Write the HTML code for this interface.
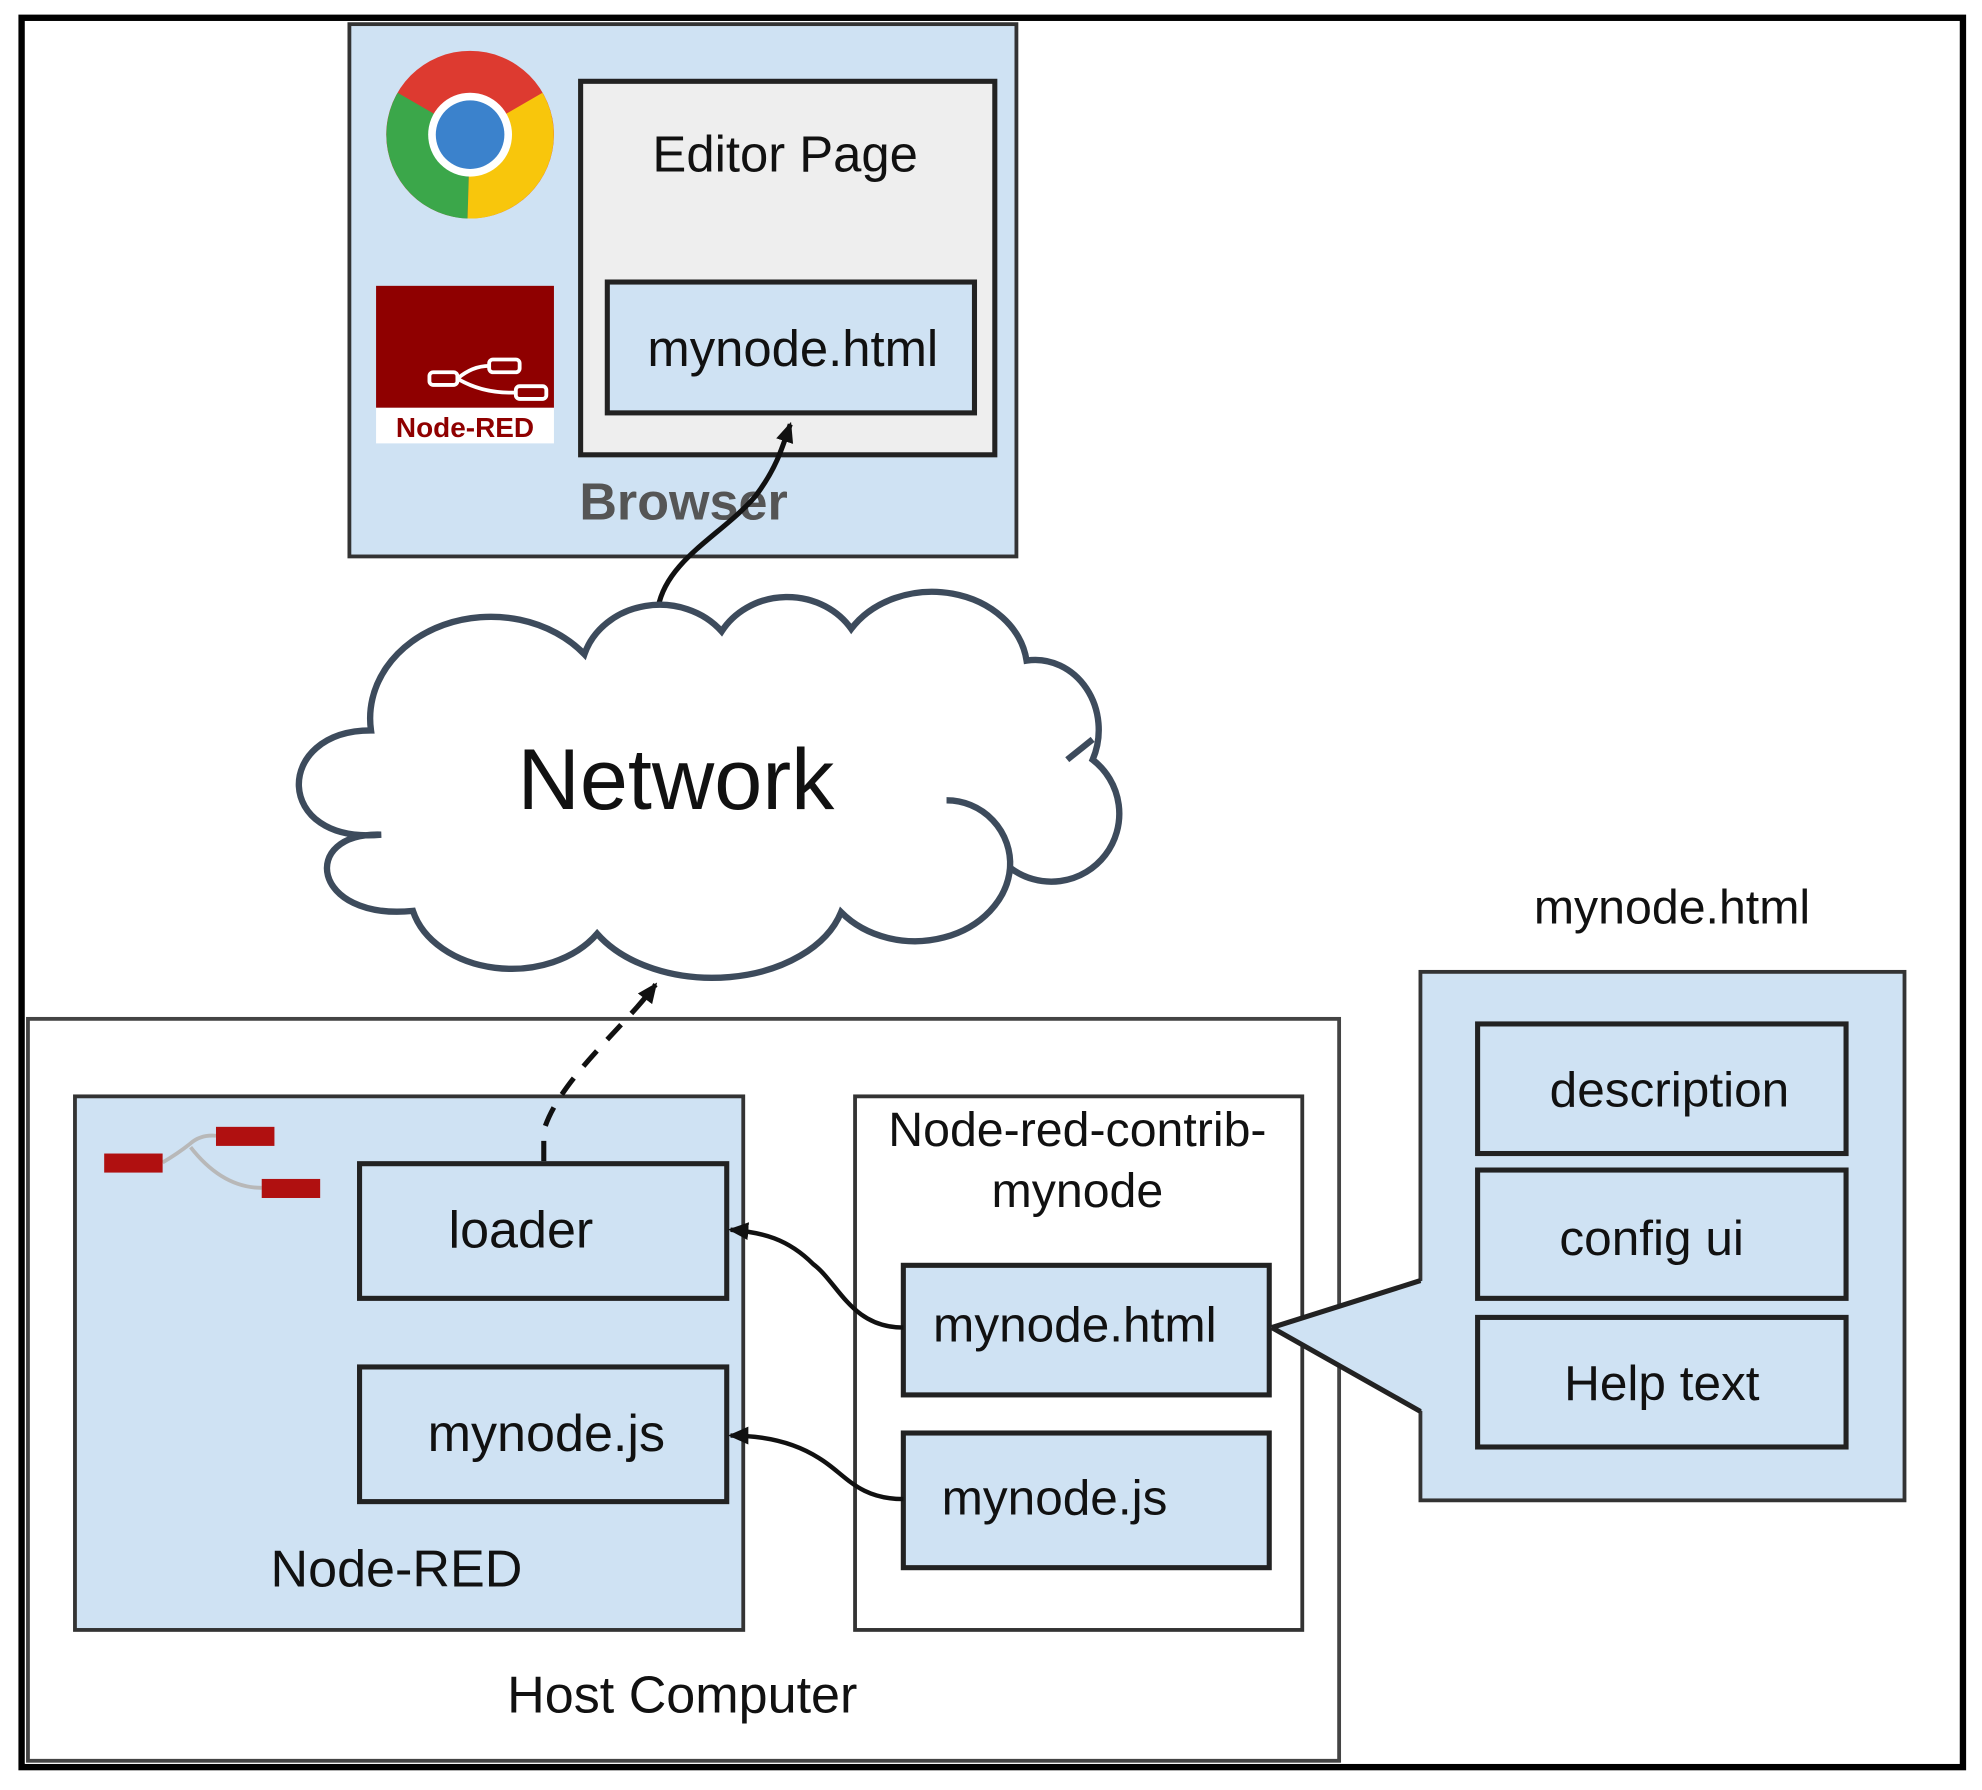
<!DOCTYPE html>
<html><head><meta charset="utf-8"><style>
html,body{margin:0;padding:0;background:#fff;}
svg{display:block;}
text{font-family:"Liberation Sans",sans-serif;}
</style></head><body>
<svg width="1982" height="1790" viewBox="0 0 1560 1409" preserveAspectRatio="none" xmlns="http://www.w3.org/2000/svg">
<defs>
<marker id="ah2" markerWidth="16" markerHeight="16" refX="14" refY="8" orient="auto" markerUnits="userSpaceOnUse">
<path d="M0,1 L16,8 L0,15 z" fill="#111"/>
</marker>
</defs>
<rect x="0" y="0" width="1560" height="1409" fill="#fff"/>
<rect x="17" y="14" width="1528" height="1377" fill="none" stroke="#000" stroke-width="5"/>

<!-- Browser -->
<rect x="275" y="19" width="525" height="419" fill="#cfe2f3" stroke="#333" stroke-width="3"/>
<g transform="translate(370,106)">
<circle r="66" fill="#dd3a30"/>
<path d="M0,0 L-57,-33 A66,66 0 0,0 -2,66 Z" fill="#3ba74a"/>
<path d="M0,0 L-2,66 A66,66 0 0,0 57,-33 Z" fill="#f8c60c"/>
<circle r="33" fill="#fff"/>
<circle r="27" fill="#3b82cc"/>
</g>
<rect x="296" y="225" width="140" height="96" fill="#8f0000"/>
<rect x="296" y="321" width="140" height="28" fill="#fff"/>
<g fill="none" stroke="#fff" stroke-width="3">
<rect x="338" y="293" width="22" height="10" rx="3"/>
<rect x="385" y="283" width="24" height="10" rx="3"/>
<rect x="406" y="304" width="24" height="10" rx="3"/>
<path d="M360,298 Q372,288 385,288 M360,298 Q380,310 406,309"/>
</g>
<text x="366" y="344" font-family="Liberation Serif" font-weight="bold" font-size="22" fill="#8f0000" text-anchor="middle">Node-RED</text>

<rect x="457" y="64" width="326" height="294" fill="#eeeeee" stroke="#222" stroke-width="4"/>
<text x="618" y="135" font-size="40" text-anchor="middle" fill="#111">Editor Page</text>
<rect x="478" y="222" width="289" height="103" fill="#cfe2f3" stroke="#222" stroke-width="4"/>
<text x="624" y="288" font-size="40" text-anchor="middle" fill="#111">mynode.html</text>
<text x="538" y="409" font-size="41" font-weight="bold" text-anchor="middle" fill="#555">Browser</text>
<path d="M518,478 C525,440 570,420 595,390 C610,370 615,355 622,334" fill="none" stroke="#111" stroke-width="4" marker-end="url(#ah2)"/>

<!-- Cloud -->
<path d="M300,657 C215,665 215,575 292,575 A95,80 0 0,1 460,515 A62,55 0 0,1 568,497 A60,55 0 0,1 670,495 A75,62 0 0,1 808,520 A50,55 0 0,1 860,598 A50,50 0 0,1 795,683 A75,62 0 0,1 662,718 A105,70 0 0,1 470,735 A80,60 0 0,1 325,717 C245,725 235,655 300,657 Z" fill="#fff" stroke="#3d4b5c" stroke-width="5"/>
<g fill="none" stroke="#3d4b5c" stroke-width="5">
<path d="M745,630 A50,50 0 0,1 795,683"/>
<path d="M840,598 L860,582"/>
</g>
<text x="532" y="637" font-size="68" text-anchor="middle" fill="#111">Network</text>

<!-- Host computer -->
<rect x="22" y="802" width="1032" height="584" fill="#fff" stroke="#444" stroke-width="3"/>
<text x="537" y="1348" font-size="41" text-anchor="middle" fill="#111">Host Computer</text>

<rect x="59" y="863" width="526" height="420" fill="#cfe2f3" stroke="#333" stroke-width="3"/>
<text x="312" y="1249" font-size="41" text-anchor="middle" fill="#111">Node-RED</text>
<path d="M128,915 Q140,908 150,900 Q158,893 170,894 M150,903 Q175,935 206,935" fill="none" stroke="#b8b8b8" stroke-width="3"/>
<rect x="82" y="908" width="46" height="15" fill="#b01010"/>
<rect x="170" y="887" width="46" height="15" fill="#b01010"/>
<rect x="206" y="928" width="46" height="15" fill="#b01010"/>

<rect x="283" y="916" width="289" height="106" fill="#cfe2f3" stroke="#222" stroke-width="4"/>
<text x="410" y="982" font-size="41" text-anchor="middle" fill="#111">loader</text>
<rect x="283" y="1076" width="289" height="106" fill="#cfe2f3" stroke="#222" stroke-width="4"/>
<text x="430" y="1142" font-size="41" text-anchor="middle" fill="#111">mynode.js</text>

<path d="M428,914 L428,890 C440,850 490,810 516,775" fill="none" stroke="#111" stroke-width="4" stroke-dasharray="16,12" marker-end="url(#ah2)"/>

<rect x="673" y="863" width="352" height="420" fill="#fff" stroke="#333" stroke-width="3"/>
<text x="848" y="902" font-size="38" text-anchor="middle" fill="#111">Node-red-contrib-</text>
<text x="848" y="950" font-size="38" text-anchor="middle" fill="#111">mynode</text>
<rect x="711" y="996" width="288" height="102" fill="#cfe2f3" stroke="#222" stroke-width="4"/>
<text x="846" y="1056" font-size="39" text-anchor="middle" fill="#111">mynode.html</text>
<rect x="711" y="1128" width="288" height="106" fill="#cfe2f3" stroke="#222" stroke-width="4"/>
<text x="830" y="1192" font-size="39" text-anchor="middle" fill="#111">mynode.js</text>

<path d="M711,1045 C670,1045 660,1010 640,995 C620,975 600,970 575,968" fill="none" stroke="#111" stroke-width="3.5" marker-end="url(#ah2)"/>
<path d="M711,1180 C675,1180 665,1160 645,1148 C625,1135 600,1130 575,1130" fill="none" stroke="#111" stroke-width="3.5" marker-end="url(#ah2)"/>

<!-- Right panel -->
<text x="1316" y="727" font-size="38" text-anchor="middle" fill="#111">mynode.html</text>
<rect x="1118" y="765" width="381" height="416" fill="#cfe2f3" stroke="#333" stroke-width="3"/>
<polygon points="1001,1045 1120,1008 1120,1111" fill="#cfe2f3"/>
<path d="M1001,1045 L1118,1008 M1001,1045 L1118,1111" stroke="#222" stroke-width="4" fill="none"/>
<rect x="1163" y="806" width="290" height="102" fill="#cfe2f3" stroke="#222" stroke-width="4"/>
<text x="1314" y="871" font-size="39" text-anchor="middle" fill="#111">description</text>
<rect x="1163" y="921" width="290" height="101" fill="#cfe2f3" stroke="#222" stroke-width="4"/>
<text x="1300" y="988" font-size="39" text-anchor="middle" fill="#111">config ui</text>
<rect x="1163" y="1037" width="290" height="102" fill="#cfe2f3" stroke="#222" stroke-width="4"/>
<text x="1308" y="1102" font-size="39" text-anchor="middle" fill="#111">Help text</text>
</svg>
</body></html>
